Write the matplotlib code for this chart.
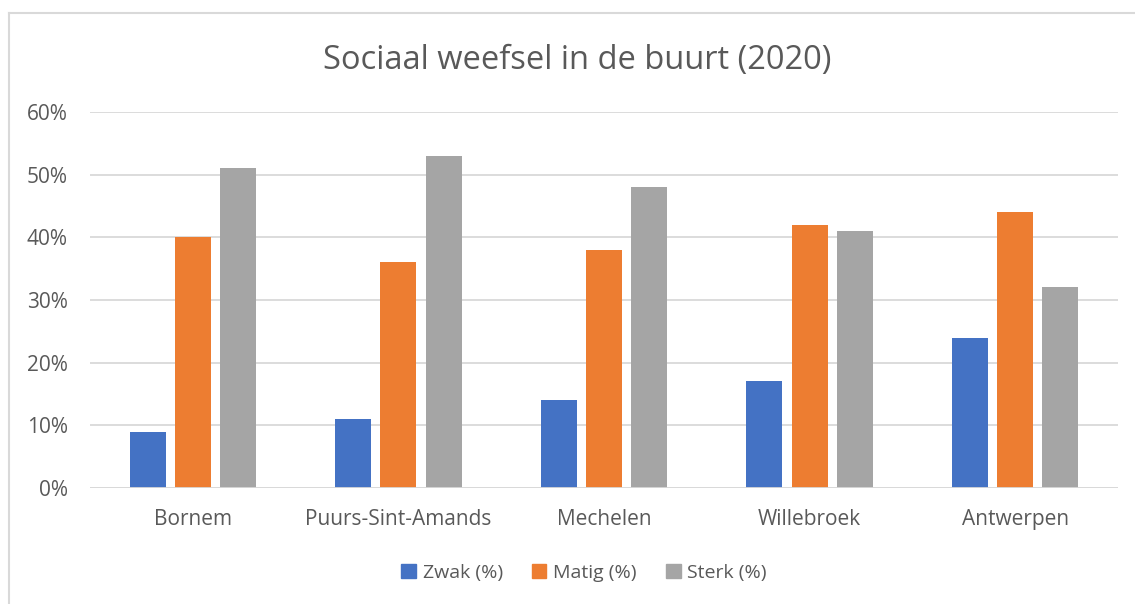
import matplotlib
matplotlib.use("Agg")
import matplotlib.pyplot as plt
from matplotlib.lines import Line2D
from matplotlib.ticker import PercentFormatter
import numpy as np

categories = ["Bornem", "Puurs-Sint-Amands", "Mechelen", "Willebroek", "Antwerpen"]
series_names = ["Zwak (%)", "Matig (%)", "Sterk (%)"]
zwak = [9, 11, 14, 17, 24]
matig = [40, 36, 38, 42, 44]
sterk = [51, 53, 48, 41, 32]
colors = ["#4472C4", "#ED7D31", "#A5A5A5"]
title = "Sociaal weefsel in de buurt (2020)"

plt.rcParams['font.family'] = ['Open Sans', 'DejaVu Sans']

fig = plt.figure(figsize=(11.35, 6.04), dpi=100)
ax = fig.add_axes([90/1135, 1-488/604, (1118-90)/1135, (488-112)/604])

x = np.arange(len(categories))
w = 0.175
off = 0.22
for i, (vals, name, c) in enumerate(zip([zwak, matig, sterk], series_names, colors)):
    ax.bar(x + (i-1)*off, vals, width=w, color=c, label=name, zorder=3)

ax.set_xlim(-0.5, len(categories)-0.5)
ax.set_ylim(0, 60)
ax.set_yticks(range(0, 61, 10))
ax.yaxis.set_major_formatter(PercentFormatter(decimals=0))
ax.grid(axis='y', color='#D9D9D9', linewidth=1.3, zorder=0)
for s in ax.spines.values():
    s.set_visible(False)
ax.axhline(0, color='#D9D9D9', linewidth=1.3, zorder=4)
ax.set_xticks(x)
ax.set_xticklabels(categories)
ax.tick_params(axis='both', length=0, labelsize=15, colors='#595959')
ax.tick_params(axis='x', pad=15)
ax.tick_params(axis='y', pad=16)

fig.text(577/1135, 1-60/604, title, ha='center', va='center', fontsize=23.5, color='#595959')

handles = [plt.Rectangle((0, 0), 1, 1, color=c) for c in colors]
fig.legend(handles, series_names, loc='center', bbox_to_anchor=(584/1135, 1-573/604),
           ncol=3, frameon=False, fontsize=14, labelcolor='#595959',
           handlelength=0.75, handleheight=0.75, handletextpad=0.35, columnspacing=1.5)

# chart border
fig.add_artist(Line2D([8.5/1135, 1], [1-12.5/604, 1-12.5/604], color='#D9D9D9', linewidth=1.5, transform=fig.transFigure))
fig.add_artist(Line2D([8.5/1135, 8.5/1135], [0, 1-12.5/604], color='#D9D9D9', linewidth=1.5, transform=fig.transFigure))

fig.savefig("out.png", dpi=100)
